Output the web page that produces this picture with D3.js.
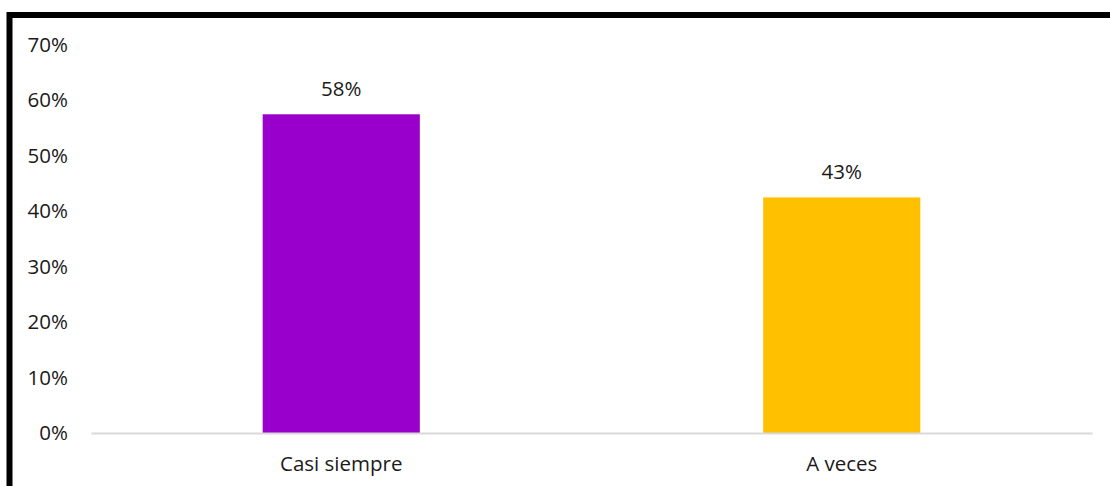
<!DOCTYPE html>
<html>
<head>
<meta charset="utf-8">
<script src="https://cdn.jsdelivr.net/npm/d3@7"></script>
<style>
  body { margin: 0; background: #fff; }
  svg text { font-family: "Open Sans", Lato, sans-serif; fill: #1a1a1a; }
</style>
</head>
<body>
<div id="chart"></div>
<script>
// data
var categories = ["Casi siempre", "A veces"];
var values = [0.575, 0.425];
var labels = ["58%", "43%"];
var colors = ["#9900CC", "#FFC000"];
var yTicks = [0, 0.1, 0.2, 0.3, 0.4, 0.5, 0.6, 0.7];

var W = 1110, H = 486;
var margin = {top: 45, right: 18, bottom: 53, left: 91},
    width = W - margin.left - margin.right,
    height = H - margin.top - margin.bottom;
var fontSize = "20.5px";

var svg = d3.select("#chart").append("svg")
    .attr("width", W)
    .attr("height", H);

// thick outer frame (runs off the right and bottom)
svg.append("rect")
    .attr("x", 9.5).attr("y", 15)
    .attr("width", W + 20).attr("height", H + 20)
    .attr("fill", "none")
    .attr("stroke", "#000")
    .attr("stroke-width", 6);

var g = svg.append("g")
    .attr("transform", "translate(" + margin.left + "," + margin.top + ")");

var x = d3.scaleBand()
    .domain(categories)
    .range([0, width])
    .paddingInner(0.686)
    .paddingOuter(0.343);

var y = d3.scaleLinear()
    .domain([0, 0.7])
    .range([height, 0]);

// y axis labels, no line
var yAxis = g.append("g")
    .call(d3.axisLeft(y).tickValues(yTicks).tickFormat(d3.format(".0%")).tickSize(0).tickPadding(23));
yAxis.select(".domain").remove();
yAxis.selectAll("text")
    .attr("font-size", fontSize)
    .style("font-family", "'Open Sans', Lato, sans-serif")
    .attr("fill", "#1a1a1a");

// bars
g.selectAll(".bar")
    .data(categories)
  .enter().append("rect")
    .attr("class", "bar")
    .attr("x", function(d) { return x(d); })
    .attr("width", x.bandwidth())
    .attr("y", function(d, i) { return y(values[i]); })
    .attr("height", function(d, i) { return height - y(values[i]); })
    .attr("fill", function(d, i) { return colors[i]; });

// value labels
g.selectAll(".lbl")
    .data(categories)
  .enter().append("text")
    .attr("class", "lbl")
    .attr("text-anchor", "middle")
    .attr("x", function(d) { return x(d) + x.bandwidth() / 2; })
    .attr("y", function(d, i) { return y(values[i]) - 18; })
    .attr("font-size", fontSize)
    .text(function(d, i) { return labels[i]; });

// x axis
var xAxis = g.append("g")
    .attr("transform", "translate(0," + height + ")")
    .call(d3.axisBottom(x).tickSize(0).tickPadding(23));
xAxis.select(".domain")
    .attr("stroke", "#d9d9d9")
    .attr("stroke-width", 2);
xAxis.selectAll("text")
    .attr("font-size", fontSize)
    .style("font-family", "'Open Sans', Lato, sans-serif")
    .attr("fill", "#1a1a1a");
</script>
</body>
</html>
